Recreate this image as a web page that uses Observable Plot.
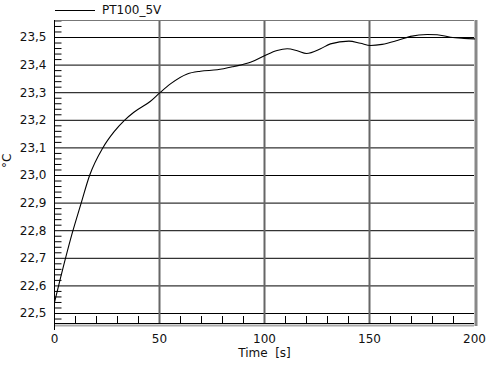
<!DOCTYPE html>
<html>
<head>
<meta charset="utf-8">
<script src="https://cdn.jsdelivr.net/npm/d3@7"></script>
<script src="https://cdn.jsdelivr.net/npm/@observablehq/plot@0.6"></script>
<style>
  body { margin: 0; background: #fff; font-family: "DejaVu Sans", sans-serif; }
  #legend { height: 18px; position: relative; font-size: 12px; color: #111; }
  #legend .sw { position: absolute; left: 55px; top: 10px; width: 40px; border-top: 1px solid #000; }
  #legend .lb { position: absolute; left: 102px; top: 2px; line-height: 16px; }
</style>
</head>
<body>
<div id="legend"><span class="sw"></span><span class="lb"></span></div>
<div id="chart"></div>
<script>
const seriesName = "PT100_5V";
const xLabel = "Time\u00a0 [s]";
const yLabel = "°C";
const time = [0, 2.9, 4.4, 8.4, 12.7, 16.7, 23, 28.3, 33.3, 37.8, 45.7, 50.2, 55.2, 63.2, 69.5, 77.5, 85.4, 93.3, 100.2, 106, 110.8, 115.6, 120, 126.7, 131.4, 140.2, 145.7, 150.5, 156, 163.2, 169.5, 177.5, 182.2, 188.6, 195, 200];
const temp = [22.54, 22.63, 22.675, 22.79, 22.90, 23.00, 23.10, 23.158, 23.20, 23.229, 23.269, 23.30, 23.332, 23.368, 23.378, 23.383, 23.395, 23.41, 23.435, 23.453, 23.459, 23.452, 23.442, 23.459, 23.477, 23.487, 23.479, 23.471, 23.475, 23.489, 23.504, 23.511, 23.51, 23.501, 23.497, 23.495];
const xTicks = [0, 50, 100, 150, 200];
const xGrid = [50, 100, 150];
const xMinor = [10, 20, 30, 40, 60, 70, 80, 90, 110, 120, 130, 140, 160, 170, 180, 190];
const yTicks = [22.5, 22.6, 22.7, 22.8, 22.9, 23.0, 23.1, 23.2, 23.3, 23.4, 23.5];
const yMinor = [22.48, 22.52, 22.54, 22.56, 22.58, 22.62, 22.64, 22.66, 22.68, 22.72, 22.74, 22.76, 22.78,
  22.82, 22.84, 22.86, 22.88, 22.92, 22.94, 22.96, 22.98, 23.02, 23.04, 23.06, 23.08, 23.12, 23.14, 23.16, 23.18,
  23.22, 23.24, 23.26, 23.28, 23.32, 23.34, 23.36, 23.38, 23.42, 23.44, 23.46, 23.48, 23.52, 23.54, 23.56];
const xDomain = [0, 200];
const yDomain = [22.4638, 23.5616];

document.querySelector("#legend .lb").textContent = seriesName;

const data = time.map((t, i) => ({t, v: temp[i]}));
const minorData = yMinor.map(v => ({v}));

const W = 500, H = 357, mL = 54, mR = 26, mT = 2, mB = 52;
const plotW = W - mL - mR, plotH = H - mT - mB;
const fmt = d => d3.format(".1f")(d).replace(".", ",");
const tickLenX = 7 * (xDomain[1] - xDomain[0]) / plotW; // 7px in x units

const chart = Plot.plot({
  width: W, height: H,
  marginLeft: mL, marginRight: mR, marginTop: mT, marginBottom: mB,
  style: {fontFamily: "DejaVu Sans, sans-serif", fontSize: "12px", color: "#111", background: "#fff"},
  x: {domain: xDomain},
  y: {domain: yDomain},
  marks: [
    Plot.ruleY(yTicks, {stroke: "#000", strokeWidth: 1}),
    Plot.ruleX(xGrid, {stroke: "#666", strokeWidth: 2}),
    Plot.link(minorData, {x1: () => xDomain[0], x2: () => xDomain[0] + tickLenX, y1: "v", y2: "v", stroke: "#000", strokeWidth: 1}),
    Plot.ruleX(xMinor, {stroke: "#000", strokeWidth: 1, insetTop: plotH - 7}),
    Plot.ruleY([yDomain[1]], {stroke: "#777", strokeWidth: 1}),
    Plot.ruleY([yDomain[0]], {stroke: "#aaa", strokeWidth: 2, dy: 2}),
    Plot.ruleY([yDomain[0]], {stroke: "#000", strokeWidth: 1}),
    Plot.ruleX([xDomain[1]], {stroke: "#888", strokeWidth: 3, dx: 1.5, insetBottom: -3}),
    Plot.ruleX([xDomain[0]], {stroke: "#000", strokeWidth: 1, insetBottom: -7}),
    Plot.line(data, {x: "t", y: "v", stroke: "#000", strokeWidth: 1.1, curve: "monotone-x"}),
    Plot.axisX({ticks: xTicks, tickSize: 0, tickPadding: 11, tickFormat: d => String(d), label: null}),
    Plot.axisY({ticks: yTicks, tickSize: 0, tickPadding: 8, tickFormat: fmt, label: null}),
    Plot.text([xLabel], {frameAnchor: "bottom", dy: 25, lineAnchor: "top", fill: "#111", fontSize: 12}),
    Plot.text([yLabel], {frameAnchor: "left", dx: -47, dy: -4, rotate: -90, fill: "#111", fontSize: 12})
  ]
});
document.getElementById("chart").appendChild(chart);
</script>
</body>
</html>
